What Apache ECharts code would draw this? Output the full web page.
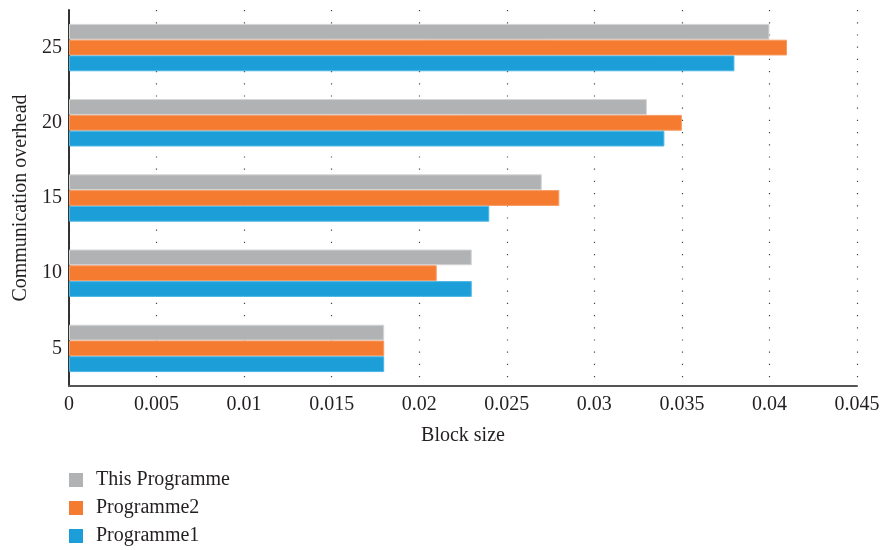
<!DOCTYPE html>
<html>
<head>
<meta charset="utf-8">
<script src="https://cdn.jsdelivr.net/npm/echarts@6/dist/echarts.min.js"></script>
<style>
  html, body { margin: 0; padding: 0; background: #fff; }
  #chart { width: 881px; height: 550px; }
</style>
</head>
<body>
<div id="chart"></div>
<script>
// Communication overhead levels (category axis, bottom to top)
var categories = ['5', '10', '15', '20', '25'];
// Block size for each programme
var programme1 = [0.018, 0.023, 0.024, 0.034, 0.038];
var programme2 = [0.018, 0.021, 0.028, 0.035, 0.041];
var thisProgramme = [0.018, 0.023, 0.027, 0.033, 0.040];
var xTicks = [0, 0.005, 0.01, 0.015, 0.02, 0.025, 0.03, 0.035, 0.04, 0.045];

var serif = '"Liberation Serif", "DejaVu Serif", serif';
var textColor = '#231f20';
var colBlue = '#1c9fd8', colOrange = '#f47b30', colGray = '#b1b2b4';

var chart = echarts.init(document.getElementById('chart'));
chart.setOption({
  animation: false,
  textStyle: { fontFamily: serif },
  grid: { left: 69, right: 24, top: 10, bottom: 164, containLabel: false, outerBoundsMode: 'none' },
  legend: {
    orient: 'vertical',
    left: 64,
    top: 465,
    height: 90,
    itemWidth: 14,
    itemHeight: 14,
    itemGap: 8,
    icon: 'rect',
    itemStyle: { borderWidth: 0 },
    textStyle: { fontFamily: serif, fontSize: 20, lineHeight: 20, color: textColor, padding: [0, 0, 0, 8] },
    data: ['This Programme', 'Programme2', 'Programme1']
  },
  xAxis: {
    type: 'value',
    min: 0,
    max: xTicks[xTicks.length - 1],
    interval: 0.005,
    name: 'Block size',
    nameLocation: 'middle',
    nameGap: 40,
    nameTextStyle: { fontFamily: serif, fontSize: 20, color: textColor },
    axisLine: { show: true, lineStyle: { color: '#555', width: 2 } },
    axisTick: { show: false },
    axisLabel: {
      fontFamily: serif, fontSize: 20, color: textColor, margin: 9,
      formatter: function (v) { return String(+v.toFixed(3)); }
    },
    splitLine: { show: true, lineStyle: { color: '#444', width: 1.2, type: [1.2, 11] } }
  },
  yAxis: {
    type: 'category',
    data: categories,
    name: 'Communication overhead',
    nameLocation: 'middle',
    nameGap: 34,
    nameTextStyle: { fontFamily: serif, fontSize: 20, color: textColor },
    axisLine: { show: true, lineStyle: { color: '#333', width: 2 } },
    axisTick: { show: false },
    axisLabel: { fontFamily: serif, fontSize: 20, color: textColor, margin: 7 },
    splitLine: { show: false }
  },
  series: [
    {
      name: 'This Programme', type: 'bar', data: thisProgramme,
      barGap: '0%', barCategoryGap: '37%',
      itemStyle: { color: colGray, borderColor: '#d4d5d6', borderWidth: 1 }
    },
    {
      name: 'Programme2', type: 'bar', data: programme2,
      barGap: '0%', barCategoryGap: '37%',
      itemStyle: { color: colOrange, borderColor: '#f79a62', borderWidth: 1 }
    },
    {
      name: 'Programme1', type: 'bar', data: programme1,
      barGap: '0%', barCategoryGap: '37%',
      itemStyle: { color: colBlue, borderColor: '#4cb6e4', borderWidth: 1 }
    }
  ]
});
</script>
</body>
</html>
